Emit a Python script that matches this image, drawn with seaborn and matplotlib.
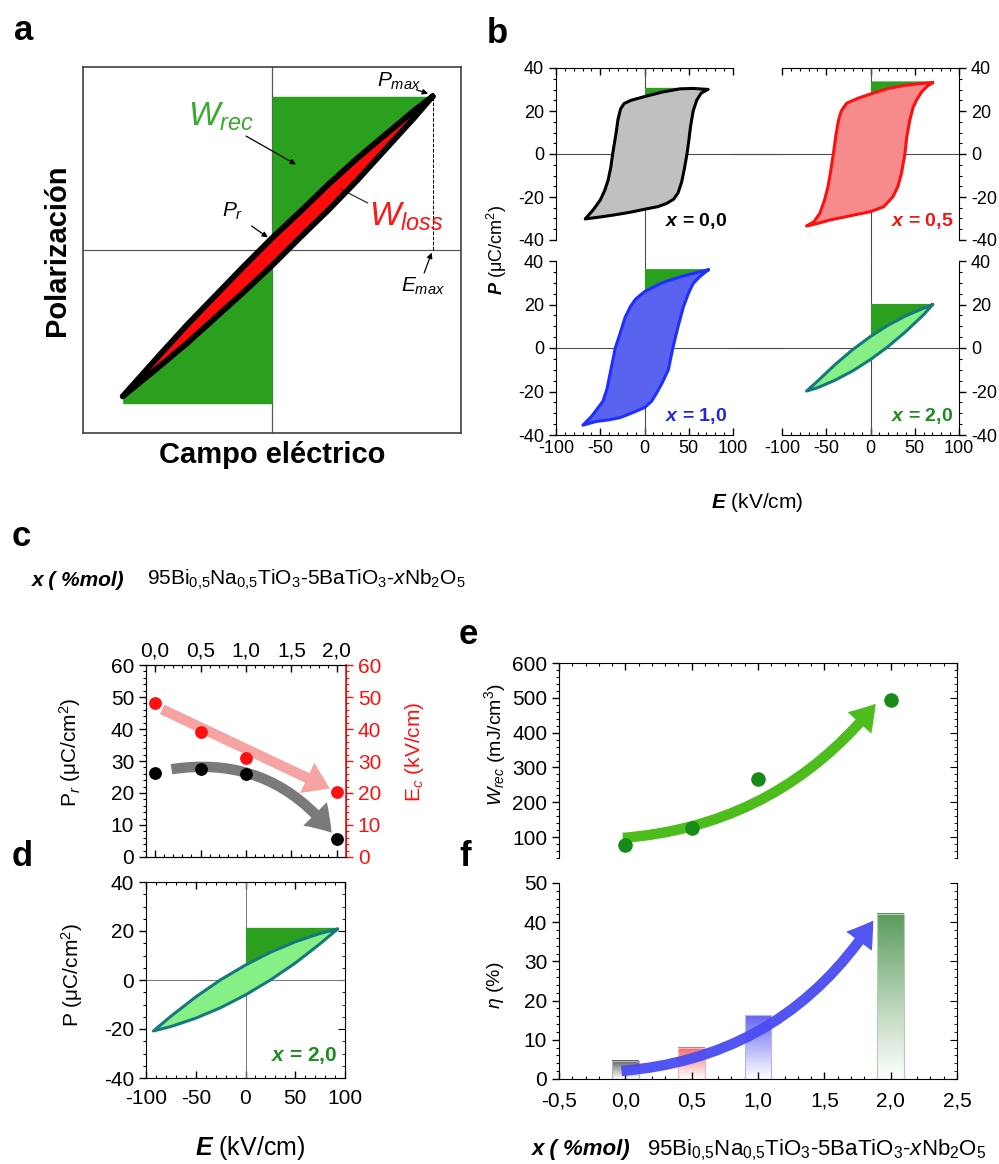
import numpy as np
import matplotlib
matplotlib.use("Agg")
import matplotlib.pyplot as plt
import seaborn as sns
from matplotlib.patches import FancyArrowPatch
from matplotlib.colors import to_rgb
from matplotlib.ticker import MultipleLocator, FuncFormatter

# ---- data ----
# panel a: schematic loop (arbitrary units)
a_up_E = [0.85, 0.75, 0.6, 0.45, 0.3, 0.15, 0.0, -0.15, -0.3, -0.45, -0.6, -0.79]
a_up_P = [0.84, 0.76, 0.63, 0.50, 0.36, 0.21, 0.065, -0.09, -0.25, -0.41, -0.58, -0.80]
a_low_E = [-0.79, -0.6, -0.45, -0.3, -0.15, 0.0, 0.15, 0.3, 0.45, 0.6, 0.75, 0.85]
a_low_P = [-0.80, -0.64, -0.51, -0.37, -0.23, -0.085, 0.07, 0.22, 0.38, 0.55, 0.72, 0.84]

# panel b: P-E loops, E in kV/cm, P in uC/cm2
b00_up_E = [71.6, 55, 40, 20, 0, -15, -23, -27, -30, -32, -34, -36, -38, -41, -45, -50, -58, -67]
b00_up_P = [30, 30.5, 30.3, 28.8, 26.7, 25, 23.5, 21, 16, 10, 5, 0, -6, -12, -17, -21.4, -26, -30.2]
b00_low_E = [-67, -50, -35, -15, 0, 15, 25, 33, 38, 42, 45, 48, 50, 52, 55, 59, 64, 71.6]
b00_low_P = [-30.2, -29.3, -28.4, -27, -25.7, -24.5, -23, -21, -18, -13, -7, 0, 6, 12.7, 20, 25, 28.3, 30]

b05_up_E = [70.3, 55, 40, 20, 0, -15, -27, -33, -36, -39, -42, -45, -48, -52, -57.3, -64, -72.3]
b05_up_P = [33.2, 32.7, 32, 30.5, 27.9, 25.8, 23.6, 20, 16, 9, 0, -8, -15.2, -21.5, -27.6, -31.5, -33.5]
b05_low_E = [-72.3, -60, -46, -20, 0, 15, 25.5, 31, 35, 38.8, 41, 44.4, 48, 52, 58, 64, 70.3]
b05_low_P = [-33.5, -32.3, -30.7, -28.5, -26.8, -24.5, -19.8, -15, -9, 0, 8, 15.8, 21.5, 25.1, 29, 31.5, 33.2]

b10_up_E = [72.3, 60, 40.3, 20, 0, -10, -16, -22, -27.5, -33, -37, -42.5, -47, -53.8, -60, -69.6]
b10_up_P = [36, 34.8, 32.7, 30, 25.9, 22.5, 19, 14, 6.8, 0, -8, -19, -24.5, -28.2, -31.5, -35.5]
b10_low_E = [-69.6, -55, -40, -27.5, -15, 0, 8, 14, 20, 27, 32, 38, 44, 50, 55, 63, 72.3]
b10_low_P = [-35.5, -33.8, -33, -32, -30, -27.4, -24.5, -20.5, -16, -9.9, 0, 10, 19, 25.5, 29.7, 33, 36]

b20_up_E = [70.3, 60, 40, 20, 0, -20, -40, -60, -72.3]
b20_up_P = [20, 18.3, 14.8, 10.5, 5.3, -0.7, -7.6, -15.3, -19.8]
b20_low_E = [-72.3, -60, -40, -20, 0, 20, 40, 60, 70.3]
b20_low_P = [-19.8, -18.3, -14.8, -10.5, -5.3, 0.7, 7.6, 15.3, 20]

b_pmax_fill = [31, 34, 36.5, 20.5]
b_names = ["0,0", "0,5", "1,0", "2,0"]

# panel d: x = 2,0 loop
d_up_E = [92.5, 75, 50, 25, 0, -25, -50, -75, -92.5]
d_up_P = [20.8, 19.0, 15.6, 11.3, 6.1, 0.1, -6.9, -14.8, -20.8]
d_low_E = [-92.5, -75, -50, -25, 0, 25, 50, 75, 92.5]
d_low_P = [-20.8, -19.0, -15.6, -11.3, -6.1, 0.0, 6.9, 14.8, 20.8]
d_pmax_fill = 21.5

# panels c, e, f
x_mol = [0.0, 0.5, 1.0, 2.0]
Pr = [26.3, 27.6, 25.8, 5.7]
Ec = [48.0, 39.0, 30.8, 20.2]
W_rec = [78, 127, 266, 494]
eta = [4.6, 8.0, 16.2, 42.2]

# ---- style ----
sns.set_style("ticks")
plt.rcParams['font.family'] = ['Liberation Sans', 'DejaVu Sans']
plt.rcParams['mathtext.fontset'] = 'custom'
plt.rcParams['mathtext.rm'] = 'Liberation Sans'
plt.rcParams['mathtext.it'] = 'Liberation Sans:italic'
plt.rcParams['mathtext.bf'] = 'Liberation Sans:bold'
plt.rcParams['mathtext.bfit'] = 'Liberation Sans:bold:italic'
plt.rcParams['axes.unicode_minus'] = False
for k in ['axes.edgecolor', 'xtick.color', 'ytick.color', 'text.color', 'axes.labelcolor']:
    plt.rcParams[k] = 'black'

GREEN_W = "#2ba01e"
fills = ["#c0c0c0", "#f78a8a", "#5a63f0", "#86f086"]
edges = ["black", "#ff1010", "#1f2fff", "#167a7a"]
txtcol = ["black", "#f01515", "#2525e0", "#1c8c1c"]
bar_cols = ["#555555", "#f06060", "#5a5af0", "#4f944f"]

W, H = 999, 1164
fig = plt.figure(figsize=(W / 100, H / 100), dpi=100)


def add_ax(l, t, r, b):
    return fig.add_axes([l / W, 1 - b / H, (r - l) / W, (b - t) / H])


def ftext(px, py, s, **kw):
    return fig.text(px / W, 1 - py / H, s, **kw)


comma1 = FuncFormatter(lambda v, p: f"{v:.1f}".replace('.', ','))


def draw_loop(ax, up_E, up_P, low_E, low_P, fill, edge, pmax_fill, lw=2.5, low_fill=False):
    up_E, up_P = np.asarray(up_E), np.asarray(up_P)
    low_E, low_P = np.asarray(low_E), np.asarray(low_P)
    m = up_E >= 0
    ax.fill_between(up_E[m], up_P[m], pmax_fill, color=GREEN_W, lw=0, zorder=2)
    if low_fill:
        m2 = low_E <= 0
        ax.fill_between(low_E[m2], -pmax_fill, low_P[m2], color=GREEN_W, lw=0, zorder=2)
    E = np.r_[up_E, low_E, up_E[:1]]
    P = np.r_[up_P, low_P, up_P[:1]]
    ax.fill(E, P, color=fill, lw=0, zorder=3)
    sns.lineplot(x=E, y=P, sort=False, estimator=None, color=edge, lw=lw, ax=ax,
                 zorder=4, solid_joinstyle='round', solid_capstyle='round')


def ticks(ax, axis, major, minor, **kw):
    a = ax.xaxis if axis == 'x' else ax.yaxis
    a.set_major_locator(MultipleLocator(major))
    a.set_minor_locator(MultipleLocator(minor))
    ax.tick_params(axis=axis, which='major', length=5, width=1, **kw)
    ax.tick_params(axis=axis, which='minor', length=2.5, width=0.8, **kw)


def mirror_y(ax, major, minor):
    sec = ax.secondary_yaxis('right')
    sec.yaxis.set_major_locator(MultipleLocator(major))
    sec.yaxis.set_minor_locator(MultipleLocator(minor))
    sec.tick_params(which='both', direction='in', labelright=False)
    sec.tick_params(which='major', length=5)
    sec.tick_params(which='minor', length=2.5)
    ax.spines['right'].set_visible(False)
    return sec


# ---------------- panel a ----------------
ax = add_ax(83, 67, 461, 433)
ax.axhline(0, color='0.35', lw=0.9, zorder=1)
ax.axvline(0, color='0.35', lw=0.9, zorder=1)
draw_loop(ax, a_up_E, a_up_P, a_low_E, a_low_P, "#ff0a0a", "black", max(a_up_P),
          lw=4.2, low_fill=True)
ax.plot([a_up_E[0], a_up_E[0]], [0, a_up_P[0]], ls='--', color='black', lw=0.7, zorder=1)
ax.set_xlim(-1, 1)
ax.set_ylim(-1, 1)
ax.set_xticks([])
ax.set_yticks([])
for s in ax.spines.values():
    s.set_linewidth(1.2)
    s.set_color('0.25')
arr = dict(arrowstyle='-|>', color='black', lw=0.9, mutation_scale=8)
ax.text(-0.27, 0.73, r"$W_{rec}$", color="#3aa82c", fontsize=24, ha='center', va='center')
ax.annotate('', xy=(0.14, 0.46), xytext=(-0.15, 0.63), arrowprops=arr)
ax.text(0.67, 0.92, r"$P_{max}$", fontsize=15, ha='center', va='center')
ax.annotate('', xy=(0.84, 0.85), xytext=(0.75, 0.88), arrowprops=arr)
ax.text(-0.21, 0.21, r"$P_{r}$", fontsize=15, ha='center', va='center')
ax.annotate('', xy=(-0.01, 0.06), xytext=(-0.12, 0.14), arrowprops=arr)
ax.text(0.71, 0.18, r"$W_{loss}$", color="#ff1515", fontsize=24, ha='center', va='center')
ax.annotate('', xy=(0.35, 0.34), xytext=(0.52, 0.25), arrowprops=dict(arrowstyle='-', color='0.2', lw=0.9))
ax.text(0.8, -0.2, r"$E_{max}$", fontsize=15, ha='center', va='center')
ax.annotate('', xy=(0.85, 0.0), xytext=(0.8, -0.14), arrowprops=arr)
ftext(57, 250, "Polarización", rotation=90, fontsize=21, fontweight='bold', ha='center', va='center')
ftext(272, 455, "Campo eléctrico", fontsize=21, fontweight='bold', ha='center', va='center')

# ---------------- panel b ----------------
b_loops = [
    (b00_up_E, b00_up_P, b00_low_E, b00_low_P),
    (b05_up_E, b05_up_P, b05_low_E, b05_low_P),
    (b10_up_E, b10_up_P, b10_low_E, b10_low_P),
    (b20_up_E, b20_up_P, b20_low_E, b20_low_P),
]
b_boxes = [(556, 68, 733, 240), (782, 68, 959, 240), (556, 261, 733, 435), (782, 261, 959, 435)]
for i, (loop, box) in enumerate(zip(b_loops, b_boxes)):
    ax = add_ax(*box)
    top, left = i < 2, i % 2 == 0
    gapx = 49 / 177
    ax.axhline(0, xmin=0 if left else -gapx, xmax=1 + gapx if left else 1,
               color='0.3', lw=0.8, zorder=1, clip_on=False)
    ax.axvline(0, ymin=-21 / 172 if top else 0, ymax=1, color='0.3', lw=0.8, zorder=1, clip_on=False)
    draw_loop(ax, *loop, fills[i], edges[i], b_pmax_fill[i], lw=2.2)
    ax.set_xlim(-100, 100)
    ax.set_ylim(-40, 40)
    ax.spines['bottom'].set_visible(not top)
    ax.spines['top'].set_visible(top)
    ax.spines['left'].set_visible(left)
    ax.spines['right'].set_visible(not left)
    ticks(ax, 'x', 50, 10, direction='in', top=top, bottom=not top,
          labeltop=False, labelbottom=not top, labelsize=13)
    ticks(ax, 'y', 20, 5, direction='out', left=left, right=not left,
          labelleft=left, labelright=not left, labelsize=13)
    ax.set_xlabel('')
    ax.set_ylabel('')
    ax.text(0.97, 0.05, r"$\mathbfit{x}$ = " + b_names[i], transform=ax.transAxes,
            ha='right', va='bottom', fontsize=14, fontweight='bold', color=txtcol[i])
ftext(497, 250, r"$\mathbfit{P}$ (μC/cm$^{2}$)", rotation=90, fontsize=13, ha='center', va='center')
ftext(757, 503, r"$\mathbfit{E}$ (kV/cm)", fontsize=15, ha='center', va='center')

# ---------------- panel c ----------------
axc = add_ax(146, 665, 346, 857)
axr = axc.twinx()
sns.scatterplot(x=x_mol, y=Pr, color='black', s=85, linewidth=0, ax=axc, zorder=5)
sns.scatterplot(x=x_mol, y=Ec, color='#ff1010', s=85, linewidth=0, ax=axr, zorder=5)
axc.add_patch(FancyArrowPatch((x_mol[0] + 0.15, Pr[0] + 1.0), (x_mol[-1] - 0.04, Pr[-1] + 1.2),
                              connectionstyle='arc3,rad=-0.3',
                              arrowstyle='simple,head_width=2.4,head_length=1.8,tail_width=0.75',
                              mutation_scale=10, color='#7a7a7a', lw=0, zorder=3))
axr.add_patch(FancyArrowPatch((x_mol[0] + 0.05, Ec[0] - 1.5), (x_mol[-1] - 0.05, Ec[-1] + 0.8),
                              arrowstyle='simple,head_width=2.4,head_length=1.8,tail_width=0.75',
                              mutation_scale=10, color='#f6a3a3', lw=0, zorder=3))
for a in (axc, axr):
    a.set_xlim(-0.1, 2.1)
    a.set_ylim(0, 60)
    a.set_xlabel('')
    a.set_ylabel('')
ticks(axc, 'x', 0.5, 0.1, direction='in', top=True, bottom=True,
      labeltop=True, labelbottom=False, labelsize=15)
axc.xaxis.set_major_formatter(comma1)
ticks(axc, 'y', 10, 2, direction='out', labelsize=15)
axr.tick_params(axis='x', which='both', top=False, bottom=False, labeltop=False, labelbottom=False)
ticks(axr, 'y', 10, 2, direction='out', labelsize=15, colors='#ff1010')
axr.spines['right'].set_color('#ff1010')
axr.spines['right'].set_linewidth(1.2)
ftext(32, 580, "x ( %mol)", fontsize=15, fontweight='bold', style='italic', ha='left', va='center')
ftext(147, 580, r"95Bi$_{0{,}5}$Na$_{0{,}5}$TiO$_{3}$-5BaTiO$_{3}$-$x$Nb$_{2}$O$_{5}$",
      fontsize=15, ha='left', va='center')
ftext(70, 752, r"P$_{r}$ (μC/cm$^{2}$)", rotation=90, fontsize=15, ha='center', va='center')
ftext(414, 752, r"E$_{c}$ (kV/cm)", rotation=90, fontsize=15, ha='center', va='center', color='#ff1010')

# ---------------- panel d ----------------
axd = add_ax(146, 882, 345, 1078)
axd.axhline(0, color='0.45', lw=0.7, zorder=1)
axd.axvline(0, color='0.45', lw=0.7, zorder=1)
draw_loop(axd, d_up_E, d_up_P, d_low_E, d_low_P, fills[3], edges[3], d_pmax_fill, lw=2.2)
axd.set_xlim(-100, 100)
axd.set_ylim(-40, 40)
axd.set_xlabel('')
axd.set_ylabel('')
ticks(axd, 'x', 50, 10, direction='in', top=True, bottom=True, labelsize=15, pad=8)
ticks(axd, 'y', 20, 5, direction='out', labelsize=15)
mirror_y(axd, 20, 5)
axd.text(0.96, 0.06, r"$\mathbfit{x}$ = 2,0", transform=axd.transAxes,
         ha='right', va='bottom', fontsize=15, fontweight='bold', color=txtcol[3])
ftext(72, 975, r"P (μC/cm$^{2}$)", rotation=90, fontsize=15, ha='center', va='center')
ftext(250, 1148, r"$\mathbfit{E}$ (kV/cm)", fontsize=18, ha='center', va='center')

# ---------------- panel e ----------------
axe = add_ax(559, 663, 957, 858)
sns.scatterplot(x=x_mol, y=W_rec, color='#178a17', s=110, linewidth=0, ax=axe, zorder=5)
axe.add_patch(FancyArrowPatch((x_mol[0] - 0.04, W_rec[0] + 19), (x_mol[-1] - 0.1, W_rec[-1] - 5),
                              connectionstyle='arc3,rad=0.22',
                              arrowstyle='simple,head_width=2.3,head_length=1.8,tail_width=0.75',
                              mutation_scale=10, color='#4cbd1c', lw=0, zorder=3))
axe.set_xlim(-0.5, 2.5)
axe.set_ylim(40, 600)
axe.set_xlabel('')
axe.set_ylabel('')
axe.spines['bottom'].set_visible(False)
ticks(axe, 'x', 0.5, 0.1, direction='in', top=True, bottom=False,
      labeltop=False, labelbottom=False)
ticks(axe, 'y', 100, 20, direction='out', labelsize=15)
mirror_y(axe, 100, 20)
ftext(495, 745, r"$W_{rec}$ (mJ/cm$^{3}$)", rotation=90, fontsize=14, ha='center', va='center')

# ---------------- panel f ----------------
axf = add_ax(559, 883, 957, 1079)
sns.barplot(x=x_mol, y=eta, native_scale=True, width=0.4, errorbar=None,
            color='white', ax=axf, zorder=2)
for p, c in zip(axf.patches, bar_cols):
    x0, w, h = p.get_x(), p.get_width(), p.get_height()
    img = np.zeros((256, 1, 4))
    img[..., :3] = to_rgb(c)
    img[:, 0, 3] = np.linspace(0.02, 0.95, 256) ** 1.1
    axf.imshow(img, extent=[x0, x0 + w, 0, h], origin='lower', aspect='auto', zorder=2)
    p.set_facecolor('none')
    p.set_edgecolor(tuple(0.55 + 0.45 * np.array(to_rgb(c))))
    p.set_linewidth(0.8)
    p.set_zorder(3)
axf.add_patch(FancyArrowPatch((x_mol[0] - 0.05, 2.0), (x_mol[-1] - 0.12, 41),
                              connectionstyle='arc3,rad=0.25',
                              arrowstyle='simple,head_width=2.3,head_length=1.8,tail_width=0.75',
                              mutation_scale=10, color='#4a4cf2', alpha=0.95, lw=0, zorder=4))
axf.set_xlim(-0.5, 2.5)
axf.set_ylim(0, 50)
axf.set_xlabel('')
axf.set_ylabel('')
axf.spines['top'].set_visible(False)
ticks(axf, 'x', 0.5, 0.1, direction='in', top=False, bottom=True, labelsize=15, pad=9)
axf.xaxis.set_major_formatter(comma1)
ticks(axf, 'y', 10, 2, direction='out', labelsize=15)
mirror_y(axf, 10, 2)
ftext(495, 985, r"$\eta$ (%)", rotation=90, fontsize=14, ha='center', va='center')
ftext(532, 1150, "x ( %mol)", fontsize=16, fontweight='bold', style='italic', ha='left', va='center')
ftext(647, 1150, r"95Bi$_{0{,}5}$Na$_{0{,}5}$TiO$_{3}$-5BaTiO$_{3}$-$x$Nb$_{2}$O$_{5}$",
      fontsize=16, ha='left', va='center')

# panel letters
for lab, px, py in [("a", 14, 40), ("b", 487, 43), ("c", 12, 546), ("d", 12, 866),
                    ("e", 459, 644), ("f", 459, 866)]:
    ftext(px, py, lab, fontsize=25, fontweight='bold', ha='left', va='baseline')

fig.savefig("out.png", dpi=100)
